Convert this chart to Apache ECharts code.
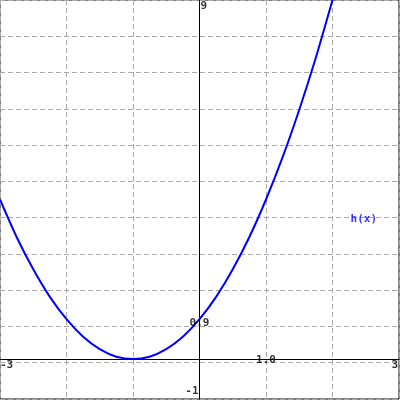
<!DOCTYPE html>
<html>
<head>
<meta charset="utf-8">
<script src="https://cdn.jsdelivr.net/npm/echarts@6/dist/echarts.min.js"></script>
<style>
  html, body { margin: 0; padding: 0; background: #fff; }
  #chart { width: 400px; height: 400px; }
</style>
</head>
<body>
<div id="chart"></div>
<script>
// h(x) values
const xValues = [-3, -2.75, -2.5, -2.25, -2, -1.75, -1.5, -1.25, -1, -0.75, -0.5, -0.25, 0, 0.25, 0.5, 0.75, 1, 1.25, 1.5, 1.75, 2]
const hValues = [4, 3.06, 2.25, 1.56, 1, 0.56, 0.25, 0.06, 0, 0.06, 0.25, 0.56, 1, 1.56, 2.25, 3.06, 4, 5.06, 6.25, 7.56, 9]

// text labels: [x, y, text]
const tickLabels = [
  [0, 9, '9'],
  [0, -1, '-1'],
  [-3, 0, '-3'],
  [3, 0, '3'],
  [1, 0, '1.0'],
  [0, 0.9, '0.9']
]
const seriesName = 'h(x)'
const seriesLabelAt = [2.47, 3.5]

const xMin = -3, xMax = 3, xStep = 1
const yMin = -1, yMax = 9, yStep = 10 / 11

const chart = echarts.init(document.getElementById('chart'))

// where each tick label sits relative to its point
const labelPlace = {
  '9': { align: 'left', verticalAlign: 'top', offset: [1, 1] },
  '-1': { align: 'right', verticalAlign: 'bottom', offset: [-1, -2] },
  '-3': { align: 'left', verticalAlign: 'top', offset: [0, 1] },
  '3': { align: 'right', verticalAlign: 'top', offset: [-1, 1] },
  '1.0': { align: 'center', verticalAlign: 'middle', offset: [0, 1] },
  '0.9': { align: 'center', verticalAlign: 'middle', offset: [0, 0] }
}

const textStyle = {
  fontFamily: 'DejaVu Sans Mono',
  fontWeight: 'bold',
  fontSize: 11
}

const option = {
  backgroundColor: '#fff',
  animation: false,
  grid: {
    left: 0,
    right: 1,
    top: 0,
    bottom: 1,
    show: true,
    borderColor: '#000',
    borderWidth: 1,
    backgroundColor: 'transparent'
  },
  xAxis: {
    type: 'value',
    min: xMin,
    max: xMax,
    interval: xStep,
    axisLine: { onZero: true, lineStyle: { color: '#000', width: 1 } },
    axisTick: { show: false },
    axisLabel: { show: false },
    splitLine: { lineStyle: { color: '#aaa', type: [5, 3], width: 1 } }
  },
  yAxis: {
    type: 'value',
    min: yMin,
    max: yMax,
    interval: yStep,
    axisLine: { onZero: true, lineStyle: { color: '#000', width: 1 } },
    axisTick: { show: false },
    axisLabel: { show: false },
    splitLine: { lineStyle: { color: '#aaa', type: [5, 3], width: 1 } }
  },
  series: [
    {
      name: seriesName,
      type: 'line',
      data: xValues.map((x, i) => [x, hValues[i]]),
      smooth: 0.3,
      symbol: 'none',
      lineStyle: { color: '#0000ff', width: 2 },
      z: 3
    },
    {
      type: 'scatter',
      symbolSize: 0,
      silent: true,
      z: 5,
      data: tickLabels.map(([x, y, t]) => ({
        value: [x, y],
        label: {
          show: true,
          position: 'inside',
          formatter: t,
          color: '#000',
          ...textStyle,
          ...labelPlace[t]
        }
      }))
    },
    {
      type: 'scatter',
      symbolSize: 0,
      silent: true,
      z: 5,
      data: [{
        value: seriesLabelAt,
        label: {
          show: true,
          position: 'inside',
          formatter: seriesName,
          color: '#0000ff',
          align: 'center',
          verticalAlign: 'middle',
          ...textStyle
        }
      }]
    }
  ]
}

chart.setOption(option)
</script>
</body>
</html>
